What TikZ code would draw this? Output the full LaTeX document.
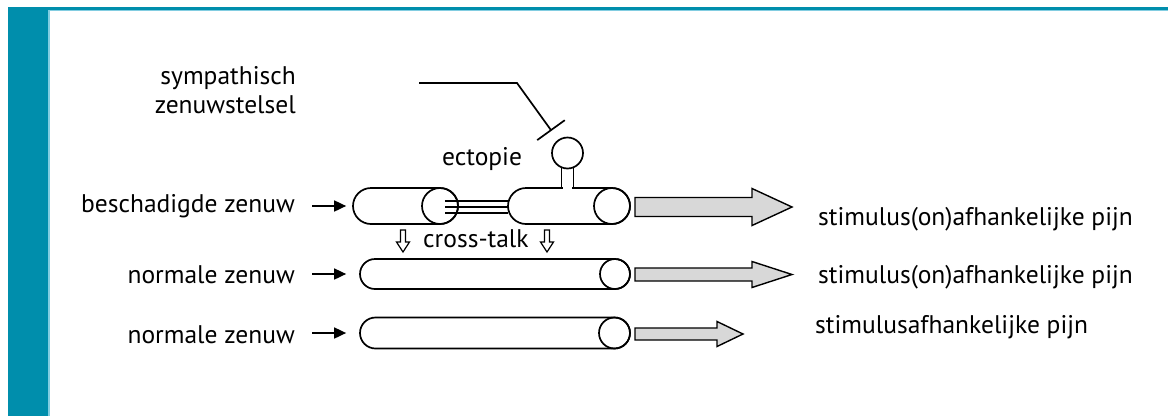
\documentclass[tikz,border=0pt]{standalone}
\usepackage{fontspec}
\setmainfont{PT Sans}
\usetikzlibrary{arrows.meta,shapes.misc}
\definecolor{tealA}{RGB}{0,142,172}
\definecolor{tealB}{RGB}{130,205,225}
\definecolor{arrgray}{RGB}{216,216,216}
\begin{document}
\begin{tikzpicture}[x=1pt,y=-1pt,
  lbl/.style={font=\fontsize{25.5}{29}\selectfont, inner sep=0pt},
  nerve/.style={rounded rectangle, draw, line width=1.7pt, inner sep=0pt, fill=white},
  capc/.style={circle, draw, line width=1.7pt, inner sep=0pt},
  inarrow/.style={line width=1.7pt, -{Triangle[length=12pt,width=11pt]}},
  bigarrow/.style={draw, line width=1.4pt, fill=arrgray, line join=miter},
  hollow/.style={draw, line width=1.2pt, fill=white, line join=miter},
  thin3/.style={line width=1.5pt},
]
\useasboundingbox (0,0) rectangle (1168,416);
\fill[white] (0,0) rectangle (1168,416);
% frame
\fill[tealA] (8,7) rectangle (48,416);
\fill[tealB] (48,9.5) rectangle (49.5,416);
\fill[tealA] (47,7) rectangle (1168,9.5);
\fill[tealB] (49.5,9.5) rectangle (1168,10.5);

% nerves
\node[nerve, minimum width=105pt, minimum height=36pt] (n1a) at (405.5,206) {};
\node[capc, minimum size=36pt, anchor=east] (c1a) at (n1a.east) {};
\node[nerve, minimum width=122pt, minimum height=36pt] (n1b) at (569,206) {};
\node[capc, minimum size=36pt, anchor=east] (c1b) at (n1b.east) {};
\node[nerve, minimum width=270pt, minimum height=30pt] (n2) at (495,274) {};
\node[capc, minimum size=30pt, anchor=east] (c2) at (n2.east) {};
\node[nerve, minimum width=270pt, minimum height=31pt] (n3) at (495,333) {};
\node[capc, minimum size=31pt, anchor=east] (c3) at (n3.east) {};

% cross connection (three lines)
\foreach \dy in {-5,1,7}
  \draw[thin3] ([shift={(5,\dy)}]c1a.center) -- ([shift={(1,\dy)}]n1b.west);

% ectopic ball with stalk
\node[capc, minimum size=31pt] (ball) at (567.5,153) {};
\fill[white] (563.2,185) rectangle (571.8,191);
\draw[line width=1.7pt] (ball.249) -- (ball.249 |- n1b.north);
\draw[line width=1.7pt] (ball.291) -- (ball.291 |- n1b.north);

% sympathetic input
\coordinate (sy) at (419,83);
\coordinate (bend) at (517,83);
\draw[line width=1.7pt, -{Bar[width=34pt,line width=1.7pt]}, shorten >=11pt] (sy) -- (bend) -- (ball);
\node[lbl, align=right, anchor=east] (symp) at (296,90) {sympathisch\\zenuwstelsel};

% labels
\node[lbl, anchor=base west] (ect) at (442,165) {ectopie};
\node[lbl, anchor=base west] (ct) at (423,247) {cross-talk};
\node[lbl, anchor=base east] (l1) at (295,212) {beschadigde zenuw};
\node[lbl, anchor=base east] (l2) at (295,283) {normale zenuw};
\node[lbl, anchor=base east] (l3) at (295,343) {normale zenuw};
\node[lbl, anchor=base west] (r1) at (818,225) {stimulus(on)afhankelijke pijn};
\node[lbl, anchor=base west] (r2) at (818,283) {stimulus(on)afhankelijke pijn};
\node[lbl, anchor=base west] (r3) at (815,333) {stimulusafhankelijke pijn};

% input arrows
\draw[inarrow] ([xshift=17pt]l1.east |- n1a.west) -- ([xshift=-6pt]n1a.west);
\draw[inarrow] ([xshift=17pt]l2.east |- n2.west) -- ([xshift=-13pt]n2.west);
\draw[inarrow] ([xshift=17pt]l3.east |- n3.west) -- ([xshift=-13pt]n3.west);

% output arrows
\draw[bigarrow] (635,197.5) -- (752,197.5) -- (752,188.5) -- (792,207) -- (752,225.5) -- (752,216.5) -- (635,216.5) -- cycle;
\draw[bigarrow] (635,268) -- (752,268) -- (752,261.5) -- (792,274.5) -- (752,287.5) -- (752,281) -- (635,281) -- cycle;
\draw[bigarrow] (635,328) -- (717,328) -- (717,321.5) -- (743,334) -- (717,346.5) -- (717,340) -- (635,340) -- cycle;

% cross-talk hollow arrows
\foreach \ax in {403,547}
  \draw[hollow] (\ax-2.5,230) -- (\ax+2.5,230) -- (\ax+2.5,242) -- (\ax+6.5,242) -- (\ax,252) -- (\ax-6.5,242) -- (\ax-2.5,242) -- cycle;
\end{tikzpicture}
\end{document}
